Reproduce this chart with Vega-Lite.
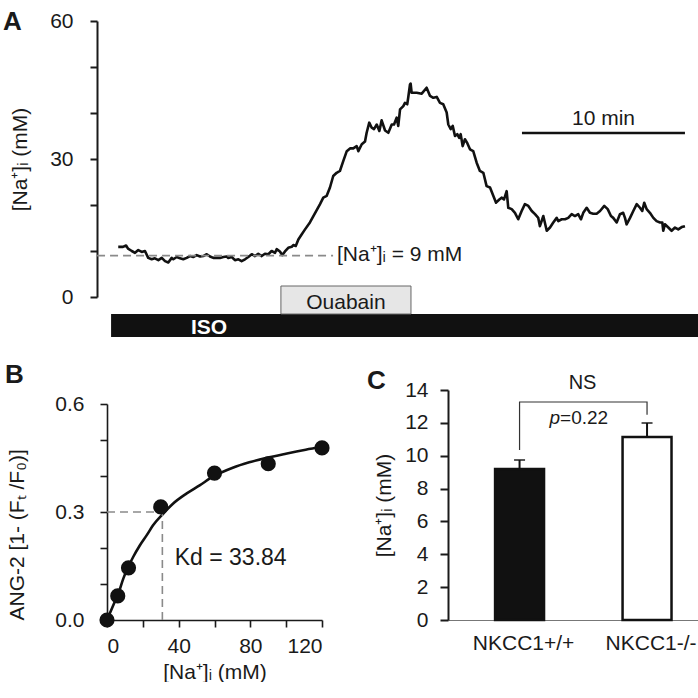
{
  "$schema": "https://vega.github.io/schema/vega-lite/v6.json",
  "background": "white",
  "padding": {"left": 3, "top": 9, "right": 0, "bottom": 0},
  "autosize": {"type": "pad"},
  "bounds": "flush",
  "spacing": 93,
  "config": {
    "font": "Liberation Sans",
    "view": {"stroke": null},
    "axis": {"grid": false, "labelOverlap": false, "labelColor": "#1a1a1a", "titleColor": "#1a1a1a", "domainColor": "#1a1a1a", "tickColor": "#1a1a1a", "titleFontWeight": "normal", "labelFont": "Liberation Sans", "titleFont": "Liberation Sans"},
    "text": {"font": "Liberation Sans", "color": "#1a1a1a"},
    "title": {"font": "Liberation Sans", "color": "#1a1a1a"}
  },
  "vconcat": [
    {
      "width": 591,
      "height": 276,
      "title": {"text": "A", "anchor": "start", "frame": "group", "fontSize": 26, "fontWeight": "bold", "baseline": "alphabetic", "offset": 0, "dx": -104, "dy": 46},
      "layer": [
        {
          "data": {"values": [
            {"t":0.69,"v":10.9},{"t":0.98,"v":10.9},{"t":1.17,"v":11.2},{"t":1.29,"v":10.5},{"t":1.52,"v":10.0},{"t":1.72,"v":9.6},{"t":1.92,"v":10.2},{"t":2.13,"v":9.8},{"t":2.33,"v":10.0},{"t":2.53,"v":8.5},{"t":2.74,"v":8.2},{"t":2.94,"v":8.4},{"t":3.15,"v":8.0},{"t":3.36,"v":8.5},{"t":3.56,"v":7.8},{"t":3.76,"v":7.5},{"t":3.97,"v":8.5},{"t":4.07,"v":8.2},{"t":4.28,"v":8.7},{"t":4.48,"v":8.4},{"t":4.68,"v":8.2},{"t":4.89,"v":8.5},{"t":5.09,"v":8.9},{"t":5.29,"v":8.7},{"t":5.5,"v":9.1},{"t":5.71,"v":8.8},{"t":5.91,"v":8.9},{"t":6.12,"v":9.3},{"t":6.32,"v":8.8},{"t":6.52,"v":8.5},{"t":6.73,"v":8.5},{"t":6.93,"v":8.5},{"t":7.14,"v":8.7},{"t":7.34,"v":8.8},{"t":7.44,"v":8.5},{"t":7.65,"v":8.7},{"t":7.85,"v":8.0},{"t":8.06,"v":8.2},{"t":8.26,"v":7.8},{"t":8.47,"v":8.2},{"t":8.67,"v":8.7},{"t":8.88,"v":9.3},{"t":9.08,"v":8.9},{"t":9.28,"v":9.4},{"t":9.49,"v":8.9},{"t":9.69,"v":9.4},{"t":9.9,"v":9.3},{"t":10.1,"v":10.0},{"t":10.31,"v":9.6},{"t":10.41,"v":10.4},{"t":10.61,"v":9.9},{"t":10.75,"v":9.1},{"t":10.92,"v":9.9},{"t":11.12,"v":10.7},{"t":11.33,"v":10.9},{"t":11.43,"v":11.3},{"t":11.58,"v":11.1},{"t":11.74,"v":12.5},{"t":11.94,"v":13.6},{"t":12.15,"v":14.7},{"t":12.45,"v":16.2},{"t":13.07,"v":20.2},{"t":13.27,"v":21.6},{"t":13.48,"v":22.0},{"t":13.68,"v":23.8},{"t":13.88,"v":26.3},{"t":14.09,"v":27.0},{"t":14.29,"v":27.4},{"t":14.5,"v":29.6},{"t":14.71,"v":31.7},{"t":14.91,"v":32.3},{"t":15.11,"v":32.3},{"t":15.32,"v":32.8},{"t":15.42,"v":31.7},{"t":15.63,"v":33.2},{"t":15.83,"v":33.8},{"t":15.93,"v":35.7},{"t":16.09,"v":37.9},{"t":16.24,"v":36.8},{"t":16.38,"v":36.5},{"t":16.55,"v":37.5},{"t":16.71,"v":36.1},{"t":16.85,"v":38.4},{"t":17.06,"v":36.2},{"t":17.26,"v":35.7},{"t":17.47,"v":37.5},{"t":17.61,"v":37.5},{"t":17.77,"v":39.0},{"t":17.87,"v":37.2},{"t":17.98,"v":40.8},{"t":18.18,"v":41.5},{"t":18.28,"v":42.2},{"t":18.42,"v":41.9},{"t":18.48,"v":43.3},{"t":18.59,"v":46.2},{"t":18.63,"v":46.4},{"t":18.69,"v":44.4},{"t":19.0,"v":44.4},{"t":19.31,"v":44.2},{"t":19.61,"v":45.5},{"t":19.82,"v":43.7},{"t":20.02,"v":43.3},{"t":20.23,"v":43.5},{"t":20.43,"v":42.2},{"t":20.63,"v":41.9},{"t":20.84,"v":40.1},{"t":20.94,"v":37.5},{"t":21.09,"v":36.5},{"t":21.21,"v":37.2},{"t":21.35,"v":35.0},{"t":21.49,"v":35.4},{"t":21.61,"v":34.6},{"t":21.7,"v":35.4},{"t":21.82,"v":32.8},{"t":21.96,"v":34.3},{"t":22.1,"v":33.5},{"t":22.27,"v":32.1},{"t":22.47,"v":31.7},{"t":22.68,"v":29.2},{"t":22.88,"v":27.4},{"t":23.09,"v":27.0},{"t":23.29,"v":24.1},{"t":23.5,"v":23.8},{"t":23.7,"v":22.0},{"t":23.87,"v":20.5},{"t":24.07,"v":21.2},{"t":24.21,"v":21.6},{"t":24.36,"v":21.2},{"t":24.52,"v":23.0},{"t":24.62,"v":19.4},{"t":24.83,"v":19.1},{"t":25.03,"v":18.3},{"t":25.23,"v":16.9},{"t":25.44,"v":18.7},{"t":25.64,"v":20.2},{"t":25.85,"v":19.8},{"t":26.06,"v":18.7},{"t":26.26,"v":18.0},{"t":26.46,"v":17.2},{"t":26.56,"v":15.4},{"t":26.77,"v":17.6},{"t":26.98,"v":14.4},{"t":27.18,"v":15.1},{"t":27.38,"v":16.2},{"t":27.59,"v":17.2},{"t":27.69,"v":16.5},{"t":27.9,"v":16.9},{"t":28.1,"v":16.9},{"t":28.3,"v":17.2},{"t":28.51,"v":18.0},{"t":28.71,"v":17.6},{"t":28.91,"v":18.0},{"t":29.08,"v":16.9},{"t":29.22,"v":18.3},{"t":29.43,"v":19.4},{"t":29.63,"v":18.3},{"t":29.83,"v":18.1},{"t":30.04,"v":18.1},{"t":30.25,"v":18.7},{"t":30.51,"v":19.8},{"t":30.72,"v":19.1},{"t":30.92,"v":17.6},{"t":31.06,"v":17.2},{"t":31.27,"v":16.2},{"t":31.47,"v":18.0},{"t":31.67,"v":18.3},{"t":31.78,"v":17.2},{"t":31.88,"v":15.8},{"t":32.09,"v":17.2},{"t":32.29,"v":18.7},{"t":32.5,"v":20.2},{"t":32.7,"v":19.4},{"t":32.84,"v":18.7},{"t":32.96,"v":20.5},{"t":33.11,"v":19.1},{"t":33.31,"v":18.3},{"t":33.52,"v":17.2},{"t":33.72,"v":16.5},{"t":33.93,"v":16.2},{"t":34.07,"v":16.2},{"t":34.13,"v":14.4},{"t":34.23,"v":15.8},{"t":34.44,"v":15.1},{"t":34.64,"v":14.4},{"t":34.85,"v":15.1},{"t":35.05,"v":14.7},{"t":35.26,"v":15.2},{"t":35.46,"v":15.4}
          ]},
          "mark": {"type": "line", "color": "#111111", "strokeWidth": 2.6, "strokeJoin": "round"},
          "encoding": {
            "x": {"field": "t", "type": "quantitative", "scale": {"domain": [0, 36.26], "nice": false, "zero": false}, "axis": null},
            "y": {"field": "v", "type": "quantitative", "scale": {"domain": [0, 60], "nice": false},
              "axis": {"title": "[Na⁺]ᵢ (mM)", "offset": 10, "values": [0, 10, 20, 30, 40, 50, 60], "labelExpr": "datum.value % 30 === 0 ? datum.label : ''", "labelOverlap": false, "labelFontSize": 21, "titleFontSize": 21, "labelPadding": 17, "titlePadding": 19, "tickSize": 7, "tickWidth": 2, "domainWidth": 2}}
          }
        },
        {
          "data": {"values": [{"drug": "ISO", "start": 0.25, "end": 36.26}]},
          "mark": {"type": "rect", "color": "#111111"},
          "encoding": {
            "x": {"field": "start", "type": "quantitative", "scale": {"domain": [0, 36.26], "nice": false, "zero": false}, "axis": null},
            "x2": {"field": "end"},
            "y": {"datum": -3.7, "type": "quantitative", "scale": {"domain": [0, 60], "nice": false}},
            "y2": {"datum": -8.7}
          }
        },
        {
          "data": {"values": [{"drug": "Ouabain", "start": 10.67, "end": 18.65}]},
          "mark": {"type": "rect", "fill": "#e6e6e6", "stroke": "#666666", "strokeWidth": 1},
          "encoding": {
            "x": {"field": "start", "type": "quantitative", "scale": {"domain": [0, 36.26], "nice": false, "zero": false}, "axis": null},
            "x2": {"field": "end"},
            "y": {"datum": 2.39, "type": "quantitative", "scale": {"domain": [0, 60], "nice": false}},
            "y2": {"datum": -3.7}
          }
        },
        {
          "data": {"values": [{"label": "ISO", "t": 6.26, "v": -8.04}]},
          "mark": {"type": "text", "fontSize": 21, "fontWeight": "bold", "color": "#ffffff", "baseline": "alphabetic", "align": "center"},
          "encoding": {
            "x": {"field": "t", "type": "quantitative", "scale": {"domain": [0, 36.26], "nice": false, "zero": false}, "axis": null},
            "y": {"field": "v", "type": "quantitative", "scale": {"domain": [0, 60], "nice": false}},
            "text": {"field": "label"}
          }
        },
        {
          "data": {"values": [{"label": "Ouabain", "t": 14.66, "v": -2.6}, {"label": "10 min", "t": 30.46, "v": 37.4}]},
          "mark": {"type": "text", "fontSize": 21, "baseline": "alphabetic", "align": "center"},
          "encoding": {
            "x": {"field": "t", "type": "quantitative", "scale": {"domain": [0, 36.26], "nice": false, "zero": false}, "axis": null},
            "y": {"field": "v", "type": "quantitative", "scale": {"domain": [0, 60], "nice": false}},
            "text": {"field": "label"}
          }
        },
        {
          "data": {"values": [{"t0": -0.61, "t1": 13.87, "v": 9}]},
          "mark": {"type": "rule", "color": "#8a8a8a", "strokeWidth": 1.6, "strokeDash": [8, 5]},
          "encoding": {
            "x": {"field": "t0", "type": "quantitative", "scale": {"domain": [0, 36.26], "nice": false, "zero": false}, "axis": null},
            "x2": {"field": "t1"},
            "y": {"field": "v", "type": "quantitative", "scale": {"domain": [0, 60], "nice": false}}
          }
        },
        {
          "data": {"values": [{"label": "[Na⁺]ᵢ = 9 mM", "t": 14.11, "v": 7.83}]},
          "mark": {"type": "text", "fontSize": 21, "baseline": "alphabetic", "align": "left"},
          "encoding": {
            "x": {"field": "t", "type": "quantitative", "scale": {"domain": [0, 36.26], "nice": false, "zero": false}, "axis": null},
            "y": {"field": "v", "type": "quantitative", "scale": {"domain": [0, 60], "nice": false}},
            "text": {"field": "label"}
          }
        },
        {
          "data": {"values": [{"t0": 25.46, "t1": 35.46, "v": 35.65}]},
          "mark": {"type": "rule", "color": "#111111", "strokeWidth": 2.5},
          "encoding": {
            "x": {"field": "t0", "type": "quantitative", "scale": {"domain": [0, 36.26], "nice": false, "zero": false}, "axis": null},
            "x2": {"field": "t1"},
            "y": {"field": "v", "type": "quantitative", "scale": {"domain": [0, 60], "nice": false}}
          }
        }
      ]
    },
    {
      "hconcat": [
        {
          "width": 215,
          "height": 230,
          "title": {"text": "B", "anchor": "start", "frame": "group", "fontSize": 26, "fontWeight": "bold", "baseline": "alphabetic", "offset": 0, "dx": -102, "dy": 19},
          "layer": [
            {
              "data": {"values": [
                {"c":0,"r":0},{"c":3.5,"r":0.041},{"c":6.3,"r":0.073},{"c":9.1,"r":0.115},{"c":11.8,"r":0.147},{"c":14.6,"r":0.175},{"c":18.3,"r":0.207},{"c":22.1,"r":0.235},{"c":25.7,"r":0.263},{"c":31.3,"r":0.295},{"c":36.8,"r":0.323},{"c":44.3,"r":0.351},{"c":51.7,"r":0.374},{"c":59.1,"r":0.398},{"c":70.2,"r":0.423},{"c":79.4,"r":0.438},{"c":88.7,"r":0.45},{"c":99.8,"r":0.462},{"c":110.9,"r":0.473},{"c":120,"r":0.481}
              ]},
              "mark": {"type": "line", "color": "#111111", "strokeWidth": 2.6, "interpolate": "monotone"},
              "encoding": {
                "x": {"field": "c", "type": "quantitative", "scale": {"domain": [0, 120], "nice": false},
                  "axis": {"title": "[Na⁺]ᵢ (mM)", "values": [0, 20, 40, 60, 80, 100, 120], "labelExpr": "datum.value % 40 === 0 ? datum.label : ''", "labelOverlap": false, "labelFontSize": 21, "titleFontSize": 21, "labelPadding": 8, "titlePadding": 5, "tickSize": 7, "tickWidth": 1.6, "domainWidth": 1.6}},
                "y": {"field": "r", "type": "quantitative", "scale": {"domain": [0, 0.6], "range": [230, 14], "nice": false},
                  "axis": {"title": "ANG-2 [1- (Fₜ /F₀)]", "values": [0, 0.1, 0.2, 0.3, 0.4, 0.5, 0.6], "format": ".1f", "labelExpr": "(datum.value === 0 || datum.value === 0.3 || datum.value === 0.6) ? datum.label : ''", "labelOverlap": false, "labelSeparation": 0, "labelFontSize": 21, "titleFontSize": 21, "labelPadding": 16, "titlePadding": 27, "titleAnchor": "start", "tickSize": 7, "tickWidth": 1.6, "domainWidth": 1.6}}
              }
            },
            {
              "data": {"values": [{"c0": 0, "c1": 30.9, "r0": 0.3, "r1": 0.3}, {"c0": 30.9, "c1": 30.9, "r0": 0, "r1": 0.3}]},
              "mark": {"type": "rule", "color": "#8a8a8a", "strokeWidth": 1.6, "strokeDash": [8, 5]},
              "encoding": {
                "x": {"field": "c0", "type": "quantitative", "scale": {"domain": [0, 120], "nice": false},
                  "axis": {"title": "[Na⁺]ᵢ (mM)", "values": [0, 20, 40, 60, 80, 100, 120], "labelExpr": "datum.value % 40 === 0 ? datum.label : ''", "labelOverlap": false, "labelFontSize": 21, "titleFontSize": 21, "labelPadding": 8, "titlePadding": 5, "tickSize": 7, "tickWidth": 1.6, "domainWidth": 1.6}},
                "x2": {"field": "c1"},
                "y": {"field": "r0", "type": "quantitative", "scale": {"domain": [0, 0.6], "range": [230, 14], "nice": false},
                  "axis": {"title": "ANG-2 [1- (Fₜ /F₀)]", "values": [0, 0.1, 0.2, 0.3, 0.4, 0.5, 0.6], "format": ".1f", "labelExpr": "(datum.value === 0 || datum.value === 0.3 || datum.value === 0.6) ? datum.label : ''", "labelOverlap": false, "labelSeparation": 0, "labelFontSize": 21, "titleFontSize": 21, "labelPadding": 16, "titlePadding": 27, "titleAnchor": "start", "tickSize": 7, "tickWidth": 1.6, "domainWidth": 1.6}},
                "y2": {"field": "r1"}
              }
            },
            {
              "data": {"values": [
                {"c":0,"r":0},{"c":6,"r":0.067},{"c":12,"r":0.145},{"c":30,"r":0.314},{"c":60,"r":0.408},{"c":90,"r":0.434},{"c":120,"r":0.478}
              ]},
              "mark": {"type": "circle", "color": "#111111", "size": 230, "opacity": 1},
              "encoding": {
                "x": {"field": "c", "type": "quantitative", "scale": {"domain": [0, 120], "nice": false},
                  "axis": {"title": "[Na⁺]ᵢ (mM)", "values": [0, 20, 40, 60, 80, 100, 120], "labelExpr": "datum.value % 40 === 0 ? datum.label : ''", "labelOverlap": false, "labelFontSize": 21, "titleFontSize": 21, "labelPadding": 8, "titlePadding": 5, "tickSize": 7, "tickWidth": 1.6, "domainWidth": 1.6}},
                "y": {"field": "r", "type": "quantitative", "scale": {"domain": [0, 0.6], "range": [230, 14], "nice": false},
                  "axis": {"title": "ANG-2 [1- (Fₜ /F₀)]", "values": [0, 0.1, 0.2, 0.3, 0.4, 0.5, 0.6], "format": ".1f", "labelExpr": "(datum.value === 0 || datum.value === 0.3 || datum.value === 0.6) ? datum.label : ''", "labelOverlap": false, "labelSeparation": 0, "labelFontSize": 21, "titleFontSize": 21, "labelPadding": 16, "titlePadding": 27, "titleAnchor": "start", "tickSize": 7, "tickWidth": 1.6, "domainWidth": 1.6}}
              }
            },
            {
              "data": {"values": [{"label": "Kd = 33.84", "c": 37.8, "r": 0.153}]},
              "mark": {"type": "text", "fontSize": 23, "align": "left", "baseline": "alphabetic"},
              "encoding": {
                "x": {"field": "c", "type": "quantitative", "scale": {"domain": [0, 120], "nice": false},
                  "axis": {"title": "[Na⁺]ᵢ (mM)", "values": [0, 20, 40, 60, 80, 100, 120], "labelExpr": "datum.value % 40 === 0 ? datum.label : ''", "labelOverlap": false, "labelFontSize": 21, "titleFontSize": 21, "labelPadding": 8, "titlePadding": 5, "tickSize": 7, "tickWidth": 1.6, "domainWidth": 1.6}},
                "y": {"field": "r", "type": "quantitative", "scale": {"domain": [0, 0.6], "range": [230, 14], "nice": false},
                  "axis": {"title": "ANG-2 [1- (Fₜ /F₀)]", "values": [0, 0.1, 0.2, 0.3, 0.4, 0.5, 0.6], "format": ".1f", "labelExpr": "(datum.value === 0 || datum.value === 0.3 || datum.value === 0.6) ? datum.label : ''", "labelOverlap": false, "labelSeparation": 0, "labelFontSize": 21, "titleFontSize": 21, "labelPadding": 16, "titlePadding": 27, "titleAnchor": "start", "tickSize": 7, "tickWidth": 1.6, "domainWidth": 1.6}},
                "text": {"field": "label"}
              }
            }
          ]
        },
        {
          "width": 250,
          "height": 230,
          "title": {"text": "C", "anchor": "start", "frame": "group", "fontSize": 26, "fontWeight": "bold", "baseline": "alphabetic", "offset": 0, "dx": -81, "dy": 42},
          "encoding": {
            "x": {"field": "g", "type": "nominal", "sort": null, "scale": {"type": "band", "paddingInner": 0.616, "paddingOuter": 0.2885, "align": 0.64},
              "axis": {"title": null, "labelAngle": 0, "ticks": false, "domainColor": "#777777", "domainWidth": 1, "labelFontSize": 21, "labelPadding": 12, "labelOffset": 4}}
          },
          "layer": [
            {
              "data": {"values": [{"g": "NKCC1+/+", "mean": 9.19, "err": 9.74}, {"g": "NKCC1-/-", "mean": 11.14, "err": 11.99}]},
              "mark": {"type": "bar", "stroke": "#111111", "strokeWidth": 2.5},
              "encoding": {
                "y": {"field": "mean", "type": "quantitative", "scale": {"domain": [0, 14], "nice": false},
                  "axis": {"title": "[Na⁺]ᵢ (mM)", "values": [0, 2, 4, 6, 8, 10, 12, 14], "labelOverlap": false, "labelSeparation": 0, "labelFontSize": 21, "titleFontSize": 21, "labelPadding": 12, "titlePadding": 10, "tickSize": 8, "tickWidth": 2, "domainWidth": 2}},
                "fill": {"field": "g", "type": "nominal", "scale": {"domain": ["NKCC1+/+", "NKCC1-/-"], "range": ["#111111", "#ffffff"]}, "legend": null}
              }
            },
            {
              "data": {"values": [{"g": "NKCC1+/+", "mean": 9.19, "err": 9.74}, {"g": "NKCC1-/-", "mean": 11.14, "err": 11.99}]},
              "mark": {"type": "rule", "color": "#111111", "strokeWidth": 2},
              "encoding": {
                "y": {"field": "mean", "type": "quantitative", "scale": {"domain": [0, 14], "nice": false},
                  "axis": {"title": "[Na⁺]ᵢ (mM)", "values": [0, 2, 4, 6, 8, 10, 12, 14], "labelOverlap": false, "labelSeparation": 0, "labelFontSize": 21, "titleFontSize": 21, "labelPadding": 12, "titlePadding": 10, "tickSize": 8, "tickWidth": 2, "domainWidth": 2}},
                "y2": {"field": "err"}
              }
            },
            {
              "data": {"values": [{"g": "NKCC1+/+", "mean": 9.19, "err": 9.74}, {"g": "NKCC1-/-", "mean": 11.14, "err": 11.99}]},
              "mark": {"type": "tick", "color": "#111111", "thickness": 2, "size": 11, "orient": "horizontal"},
              "encoding": {
                "y": {"field": "err", "type": "quantitative", "scale": {"domain": [0, 14], "nice": false},
                  "axis": {"title": "[Na⁺]ᵢ (mM)", "values": [0, 2, 4, 6, 8, 10, 12, 14], "labelOverlap": false, "labelSeparation": 0, "labelFontSize": 21, "titleFontSize": 21, "labelPadding": 12, "titlePadding": 10, "tickSize": 8, "tickWidth": 2, "domainWidth": 2}}
              }
            },
            {
              "data": {"values": [{"g": "NKCC1+/+", "y": 10.35, "o": 1}, {"g": "NKCC1+/+", "y": 13.27, "o": 2}, {"g": "NKCC1-/-", "y": 13.27, "o": 3}, {"g": "NKCC1-/-", "y": 12.5, "o": 4}]},
              "mark": {"type": "line", "color": "#333333", "strokeWidth": 1.2},
              "encoding": {
                "y": {"field": "y", "type": "quantitative", "scale": {"domain": [0, 14], "nice": false},
                  "axis": {"title": "[Na⁺]ᵢ (mM)", "values": [0, 2, 4, 6, 8, 10, 12, 14], "labelOverlap": false, "labelSeparation": 0, "labelFontSize": 21, "titleFontSize": 21, "labelPadding": 12, "titlePadding": 10, "tickSize": 8, "tickWidth": 2, "domainWidth": 2}},
                "order": {"field": "o", "type": "quantitative"}
              }
            },
            {
              "data": {"values": [{"g": "NKCC1+/+", "y": 14.06, "label": "NS"}]},
              "mark": {"type": "text", "fontSize": 20, "align": "center", "baseline": "alphabetic", "dx": 63},
              "encoding": {
                "y": {"field": "y", "type": "quantitative", "scale": {"domain": [0, 14], "nice": false},
                  "axis": {"title": "[Na⁺]ᵢ (mM)", "values": [0, 2, 4, 6, 8, 10, 12, 14], "labelOverlap": false, "labelSeparation": 0, "labelFontSize": 21, "titleFontSize": 21, "labelPadding": 12, "titlePadding": 10, "tickSize": 8, "tickWidth": 2, "domainWidth": 2}},
                "text": {"field": "label"}
              }
            },
            {
              "data": {"values": [{"g": "NKCC1+/+", "y": 11.93, "label": "p"}]},
              "mark": {"type": "text", "fontSize": 19, "fontStyle": "italic", "align": "right", "baseline": "alphabetic", "dx": 40.5},
              "encoding": {
                "y": {"field": "y", "type": "quantitative", "scale": {"domain": [0, 14], "nice": false},
                  "axis": {"title": "[Na⁺]ᵢ (mM)", "values": [0, 2, 4, 6, 8, 10, 12, 14], "labelOverlap": false, "labelSeparation": 0, "labelFontSize": 21, "titleFontSize": 21, "labelPadding": 12, "titlePadding": 10, "tickSize": 8, "tickWidth": 2, "domainWidth": 2}},
                "text": {"field": "label"}
              }
            },
            {
              "data": {"values": [{"g": "NKCC1+/+", "y": 11.93, "label": "=0.22"}]},
              "mark": {"type": "text", "fontSize": 19, "align": "left", "baseline": "alphabetic", "dx": 40.5},
              "encoding": {
                "y": {"field": "y", "type": "quantitative", "scale": {"domain": [0, 14], "nice": false},
                  "axis": {"title": "[Na⁺]ᵢ (mM)", "values": [0, 2, 4, 6, 8, 10, 12, 14], "labelOverlap": false, "labelSeparation": 0, "labelFontSize": 21, "titleFontSize": 21, "labelPadding": 12, "titlePadding": 10, "tickSize": 8, "tickWidth": 2, "domainWidth": 2}},
                "text": {"field": "label"}
              }
            }
          ]
        }
      ],
      "spacing": 126,
      "bounds": "flush"
    }
  ]
}
